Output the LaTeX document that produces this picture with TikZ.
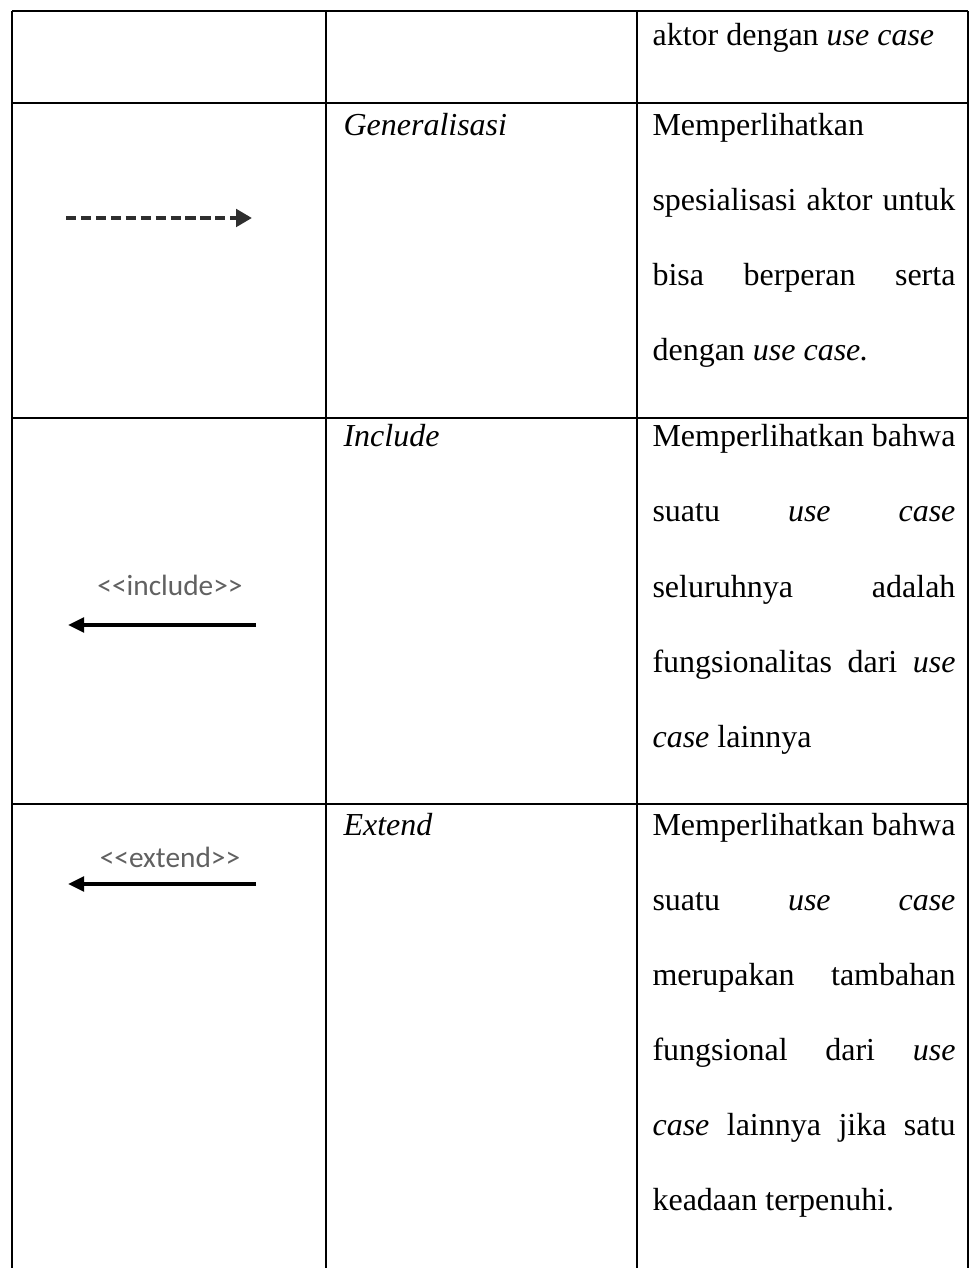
\documentclass[tikz,border=0pt]{standalone}
\usepackage{fontspec}
\setmainfont{Liberation Serif}
\newfontfamily\calib{Carlito}
\usetikzlibrary{arrows.meta}
\begin{document}
\begin{tikzpicture}[x=0.375pt,y=-0.375pt,
  gridline/.style={line width=0.8pt, black},
  txt/.style={anchor=base west, inner sep=0pt, font=\fontsize{12}{14}\selectfont},
  uml/.style={anchor=base, inner sep=0pt, text=black!62, font=\calib\fontsize{11}{13}\selectfont},
  solidarrow/.style={line width=1.3pt, black, -{Triangle[length=6pt,width=5.5pt]}},
  dasharrow/.style={line width=1.5pt, black!82, dash pattern=on 3.8pt off 1.8pt, -{Triangle[length=6pt,width=6.5pt]}}]
\useasboundingbox (0,0) rectangle (971,1268);
\fill[white] (0,0) rectangle (971,1268);
% grid
\draw[gridline] (12,11) -- (12,1270);
\draw[gridline] (326,11) -- (326,1270);
\draw[gridline] (637,11) -- (637,1270);
\draw[gridline] (968,11) -- (968,1270);
\draw[gridline] (12,11) -- (968,11);
\draw[gridline] (12,103) -- (968,103);
\draw[gridline] (12,418) -- (968,418);
\draw[gridline] (12,804) -- (968,804);
% row 0
\node[txt] (r0) at (652,46) {aktor dengan \textit{use case}};
% generalisasi
\node[txt] (g2) at (343,136) {\textit{Generalisasi}};
\node[txt] (g3a) at (652,136) {Memperlihatkan};
\node[txt] (g3b) at (652,211) {\makebox[113.6pt][s]{spesialisasi aktor untuk}};
\node[txt] (g3c) at (652,286) {\makebox[113.6pt][s]{bisa berperan serta}};
\node[txt] (g3d) at (652,361) {dengan \textit{use case.}};
\coordinate (ga) at (66,218);
\coordinate (gb) at (252,218);
\draw[dasharrow] (ga) -- (gb);
% include
\node[txt] (i2) at (343,447) {\textit{Include}};
\node[txt] (i3a) at (652,447) {\makebox[113.6pt][s]{Memperlihatkan bahwa}};
\node[txt] (i3b) at (652,522) {\makebox[113.6pt][s]{suatu \textit{use} \textit{case}}};
\node[txt] (i3c) at (652,597) {\makebox[113.6pt][s]{seluruhnya adalah}};
\node[txt] (i3d) at (652,672) {\makebox[113.6pt][s]{fungsionalitas dari \textit{use}}};
\node[txt] (i3e) at (652,747) {\textit{case} lainnya};
\node[uml] (il) at (170,595) {<{}<include>{}>};
\coordinate (ia) at (256,625);
\coordinate (ib) at (68,625);
\draw[solidarrow] (ia) -- (ib);
% extend
\node[txt] (e2) at (343,835) {\textit{Extend}};
\node[txt] (e3a) at (652,835) {\makebox[113.6pt][s]{Memperlihatkan bahwa}};
\node[txt] (e3b) at (652,910) {\makebox[113.6pt][s]{suatu \textit{use} \textit{case}}};
\node[txt] (e3c) at (652,985) {\makebox[113.6pt][s]{merupakan tambahan}};
\node[txt] (e3d) at (652,1060) {\makebox[113.6pt][s]{fungsional dari \textit{use}}};
\node[txt] (e3e) at (652,1135) {\makebox[113.6pt][s]{\textit{case} lainnya jika satu}};
\node[txt] (e3f) at (652,1210) {keadaan terpenuhi.};
\node[uml] (el) at (170,867) {<{}<extend>{}>};
\coordinate (ea) at (256,884);
\coordinate (eb) at (68,884);
\draw[solidarrow] (ea) -- (eb);
\end{tikzpicture}
\end{document}
